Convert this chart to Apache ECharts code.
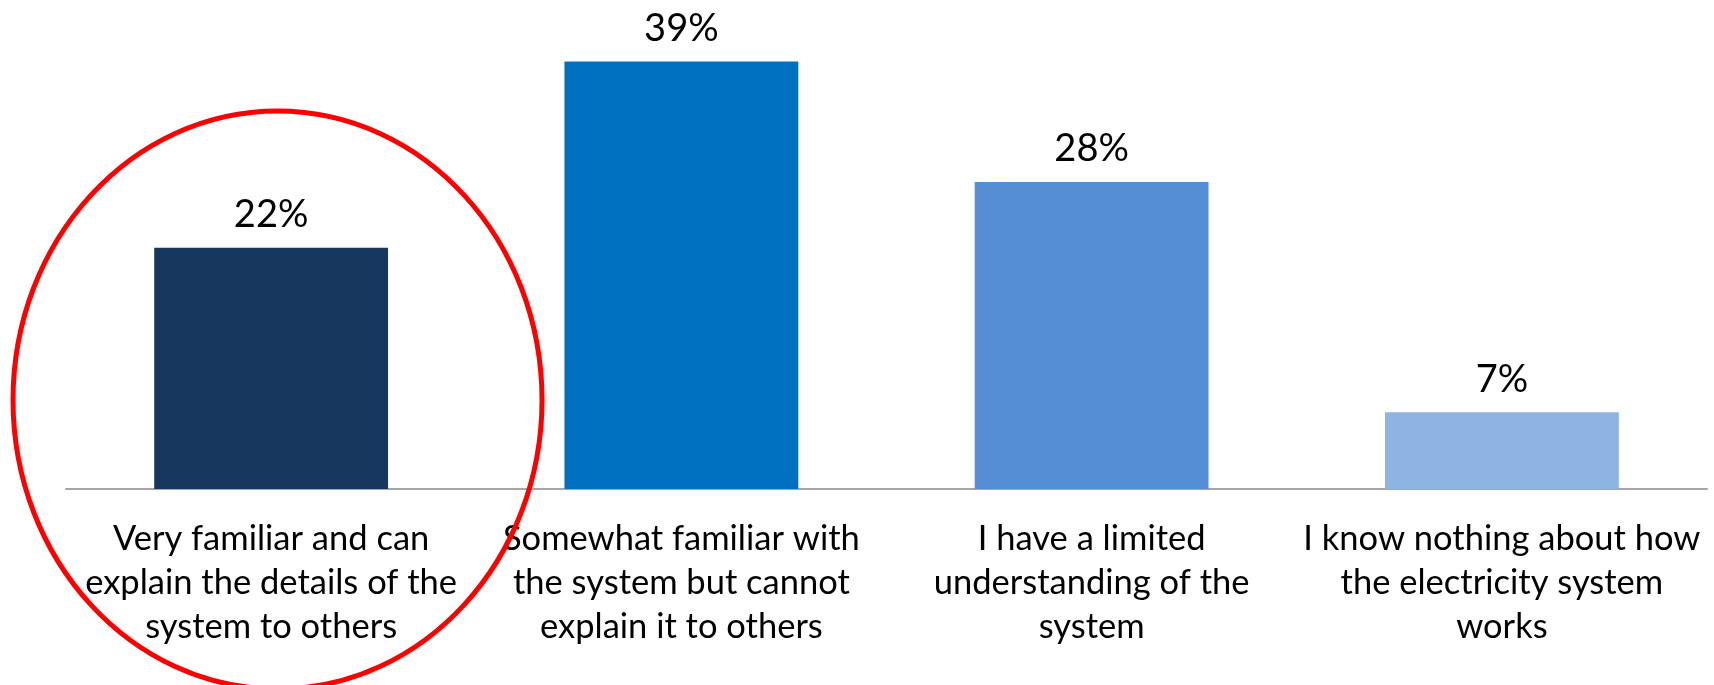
<!DOCTYPE html>
<html>
<head>
<meta charset="utf-8">
<title>Familiarity with the electricity system</title>
<script src="https://cdn.jsdelivr.net/npm/echarts@6/dist/echarts.min.js"></script>
<style>
  html, body { margin: 0; padding: 0; background: #ffffff; }
  #chart { width: 1714px; height: 685px; }
</style>
</head>
<body>
<div id="chart"></div>
<script>
// Survey answers (one bar per answer), wrapped as they appear under the axis
const categories = [
  'Very familiar and can\nexplain the details of the\nsystem to others',
  'Somewhat familiar with\nthe system but cannot\nexplain it to others',
  'I have a limited\nunderstanding of the\nsystem',
  'I know nothing about how\nthe electricity system\nworks'
];
// Share of respondents, in percent
const shares = [22, 39, 28, 7];
// One fill per bar, dark to light blue
const barColors = ['#17375E', '#0070C0', '#558ED5', '#8EB4E3'];

const FONT = 'Lato, "Open Sans", "Noto Sans", sans-serif';

const chart = echarts.init(document.getElementById('chart'), null, { renderer: 'canvas' });

chart.setOption({
  backgroundColor: '#ffffff',
  animation: false,
  grid: { left: 66, right: 7, top: 0, bottom: 196, containLabel: false },
  xAxis: {
    type: 'category',
    data: categories,
    axisLine: { show: true, lineStyle: { color: '#a6a6a6', width: 2 } },
    axisTick: { show: false },
    axisLabel: {
      interval: 0,
      margin: 28,
      color: '#000000',
      fontFamily: FONT,
      fontSize: 34.5,
      lineHeight: 44,
      align: 'center'
    }
  },
  yAxis: {
    type: 'value',
    min: 0,
    max: 44.6,
    show: false,
    splitLine: { show: false }
  },
  series: [{
    type: 'bar',
    data: shares.map((v, i) => ({ value: v, itemStyle: { color: barColors[i] } })),
    barCategoryGap: '43%',
    label: {
      show: true,
      position: 'top',
      distance: 14,
      color: '#000000',
      fontFamily: FONT,
      fontSize: 38,
      formatter: p => p.value + '%'
    }
  }],
  // Red ring highlighting the first answer
  graphic: [{
    type: 'ellipse',
    shape: { cx: 277.5, cy: 400, rx: 264.5, ry: 289 },
    style: { fill: null, stroke: '#ff0000', lineWidth: 5 },
    z: 100
  }]
});
</script>
</body>
</html>
